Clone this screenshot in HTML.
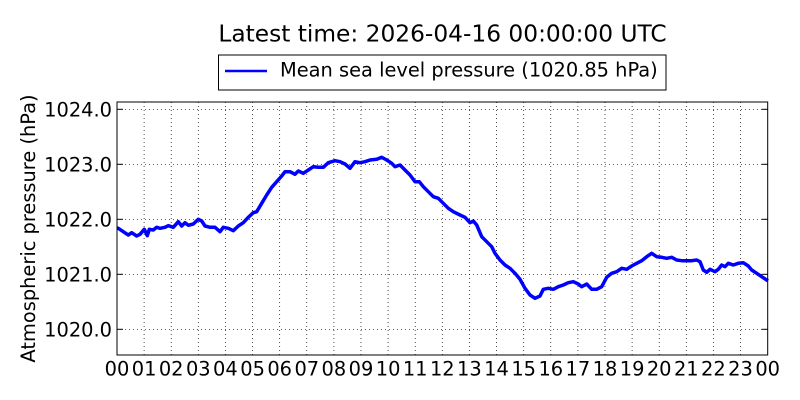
<!DOCTYPE html>
<html><head><meta charset="utf-8"><style>
html,body{margin:0;padding:0;background:#fff;}
svg{display:block;font-family:"DejaVu Sans","Liberation Sans",sans-serif;}
</style></head><body>
<svg width="800" height="400" viewBox="0 0 800 400" xmlns="http://www.w3.org/2000/svg">
<rect width="800" height="400" fill="#fff"/>
<text x="442.5" y="41.7" font-size="23.3" text-anchor="middle" fill="#000">Latest time: 2026-04-16 00:00:00 UTC</text>
<g stroke="#000" stroke-width="0.7" stroke-dasharray="1,3" fill="none">
<line x1="117" y1="109.3" x2="767.7" y2="109.3"/>
<line x1="117" y1="164.3" x2="767.7" y2="164.3"/>
<line x1="117" y1="219.3" x2="767.7" y2="219.3"/>
<line x1="117" y1="274.3" x2="767.7" y2="274.3"/>
<line x1="117" y1="329.3" x2="767.7" y2="329.3"/>
<line x1="144.1" y1="102" x2="144.1" y2="355"/>
<line x1="171.2" y1="102" x2="171.2" y2="355"/>
<line x1="198.3" y1="102" x2="198.3" y2="355"/>
<line x1="225.4" y1="102" x2="225.4" y2="355"/>
<line x1="252.6" y1="102" x2="252.6" y2="355"/>
<line x1="279.7" y1="102" x2="279.7" y2="355"/>
<line x1="306.8" y1="102" x2="306.8" y2="355"/>
<line x1="333.9" y1="102" x2="333.9" y2="355"/>
<line x1="361.0" y1="102" x2="361.0" y2="355"/>
<line x1="388.1" y1="102" x2="388.1" y2="355"/>
<line x1="415.2" y1="102" x2="415.2" y2="355"/>
<line x1="442.3" y1="102" x2="442.3" y2="355"/>
<line x1="469.4" y1="102" x2="469.4" y2="355"/>
<line x1="496.5" y1="102" x2="496.5" y2="355"/>
<line x1="523.7" y1="102" x2="523.7" y2="355"/>
<line x1="550.8" y1="102" x2="550.8" y2="355"/>
<line x1="577.9" y1="102" x2="577.9" y2="355"/>
<line x1="605.0" y1="102" x2="605.0" y2="355"/>
<line x1="632.1" y1="102" x2="632.1" y2="355"/>
<line x1="659.2" y1="102" x2="659.2" y2="355"/>
<line x1="686.3" y1="102" x2="686.3" y2="355"/>
<line x1="713.4" y1="102" x2="713.4" y2="355"/>
<line x1="740.5" y1="102" x2="740.5" y2="355"/>
</g>
<polyline fill="none" stroke="#0000ff" stroke-width="3.5" stroke-linejoin="round" points="
117,228 118.3,228.3 123.3,231.7 128.3,235 131.7,232.7 136.7,236 140,234.3 144.3,229.3 147.3,235.7 149.3,229.3 153.3,230 156.7,227.3 160,228.3 165,227.3 168.3,225.7 173.3,227.3 178.3,221.7 181.7,226 185,222.7 188.3,225.3 193.3,224 198.3,219.3 201.7,221 205,226 210,227.3 215,227.3 220,231.7 223.3,227.3 228.3,228.3 233.3,230.7 238.3,226 243.3,222.7 248.3,217.3 253.3,212.7 256.7,211.7 261.7,203.3 266.7,195 271.7,187.3 276.7,181.7 281.7,176 285,171.7 290,171.7 295,174.3 298.3,171 303.3,173.3 308.3,170 313.3,166.7 318.3,167.3 323.3,167.3 328.3,162.7 335,160.7 340,161.7 345,164 350,168.3 355,161.7 360,162.7 365,161.7 370,160 376.7,159.3 381.7,157.3 386.7,160 391.7,163.3 395,166.7 400,165 405,170 410,175 415,181.7 419.3,181.7 423.3,186.7 428.3,191.7 433.3,196.7 438.3,198.3 443.3,203.3 448.3,208.3 453.3,211.7 460,215 465,217.3 470,222.7 473.3,221 476.7,225 481.7,236.7 486.7,241.7 491.7,246.7 495,253.3 500,260 505,265 510,268.3 515,273.3 520,279.3 525,288.3 530,295 535,298.3 540,296 543.3,289.3 548.3,288.3 553.3,289.3 558.3,286.7 563.3,285 568.3,282.7 573.3,281.7 578.3,284 581.7,286.7 586.7,284 591.7,289.3 596.7,289.3 601.7,286.7 606.7,277.3 611.7,273.3 616.7,271.7 621.7,268.3 626.7,269.3 631.7,266 636.7,263.3 641.7,260.7 646.7,256.7 651.7,253.3 656.7,256.7 661.7,257.3 666.7,258.3 671.7,257.3 676.7,260 681.7,260.7 686.7,260.7 691.7,260.7 696.7,260 700,261.7 703.3,270 706.7,272.3 710,269.3 715,271.7 718.3,269.3 721.7,265 725,266.7 728.3,263.3 733.3,265 738.3,263.3 743.3,262.7 748.3,266 751.7,270 756.7,273.3 761.7,276.7 766.7,280 767.7,281"/>
<g stroke="#000" stroke-width="1" fill="none">
<line x1="117" y1="109.3" x2="123" y2="109.3"/><line x1="767.7" y1="109.3" x2="761.7" y2="109.3"/>
<line x1="117" y1="164.3" x2="123" y2="164.3"/><line x1="767.7" y1="164.3" x2="761.7" y2="164.3"/>
<line x1="117" y1="219.3" x2="123" y2="219.3"/><line x1="767.7" y1="219.3" x2="761.7" y2="219.3"/>
<line x1="117" y1="274.3" x2="123" y2="274.3"/><line x1="767.7" y1="274.3" x2="761.7" y2="274.3"/>
<line x1="117" y1="329.3" x2="123" y2="329.3"/><line x1="767.7" y1="329.3" x2="761.7" y2="329.3"/>
<rect x="117" y="102" width="650.7" height="253"/>
</g>
<g font-size="19.4" fill="#000" text-anchor="end">
<text x="112" y="116.3">1024.0</text>
<text x="112" y="171.3">1023.0</text>
<text x="112" y="226.3">1022.0</text>
<text x="112" y="281.3">1021.0</text>
<text x="112" y="336.3">1020.0</text>
</g>
<g font-size="19.4" fill="#000" text-anchor="middle">
<text x="117" y="375.3">00</text>
<text x="144.1" y="375.3">01</text>
<text x="171.2" y="375.3">02</text>
<text x="198.3" y="375.3">03</text>
<text x="225.4" y="375.3">04</text>
<text x="252.6" y="375.3">05</text>
<text x="279.7" y="375.3">06</text>
<text x="306.8" y="375.3">07</text>
<text x="333.9" y="375.3">08</text>
<text x="361.0" y="375.3">09</text>
<text x="388.1" y="375.3">10</text>
<text x="415.2" y="375.3">11</text>
<text x="442.3" y="375.3">12</text>
<text x="469.4" y="375.3">13</text>
<text x="496.5" y="375.3">14</text>
<text x="523.7" y="375.3">15</text>
<text x="550.8" y="375.3">16</text>
<text x="577.9" y="375.3">17</text>
<text x="605.0" y="375.3">18</text>
<text x="632.1" y="375.3">19</text>
<text x="659.2" y="375.3">20</text>
<text x="686.3" y="375.3">21</text>
<text x="713.4" y="375.3">22</text>
<text x="740.5" y="375.3">23</text>
<text x="767.7" y="375.3">00</text>
</g>
<text transform="translate(35,228.5) rotate(-90)" font-size="19.4" text-anchor="middle" fill="#000">Atmospheric pressure (hPa)</text>
<rect x="218.5" y="55" width="447.5" height="35" fill="#fff" stroke="#000" stroke-width="1"/>
<line x1="225" y1="71" x2="267" y2="71" stroke="#0000ff" stroke-width="2.6"/>
<text x="280" y="76.7" font-size="19.4" fill="#000">Mean sea level pressure (1020.85 hPa)</text>
</svg>
</body></html>
